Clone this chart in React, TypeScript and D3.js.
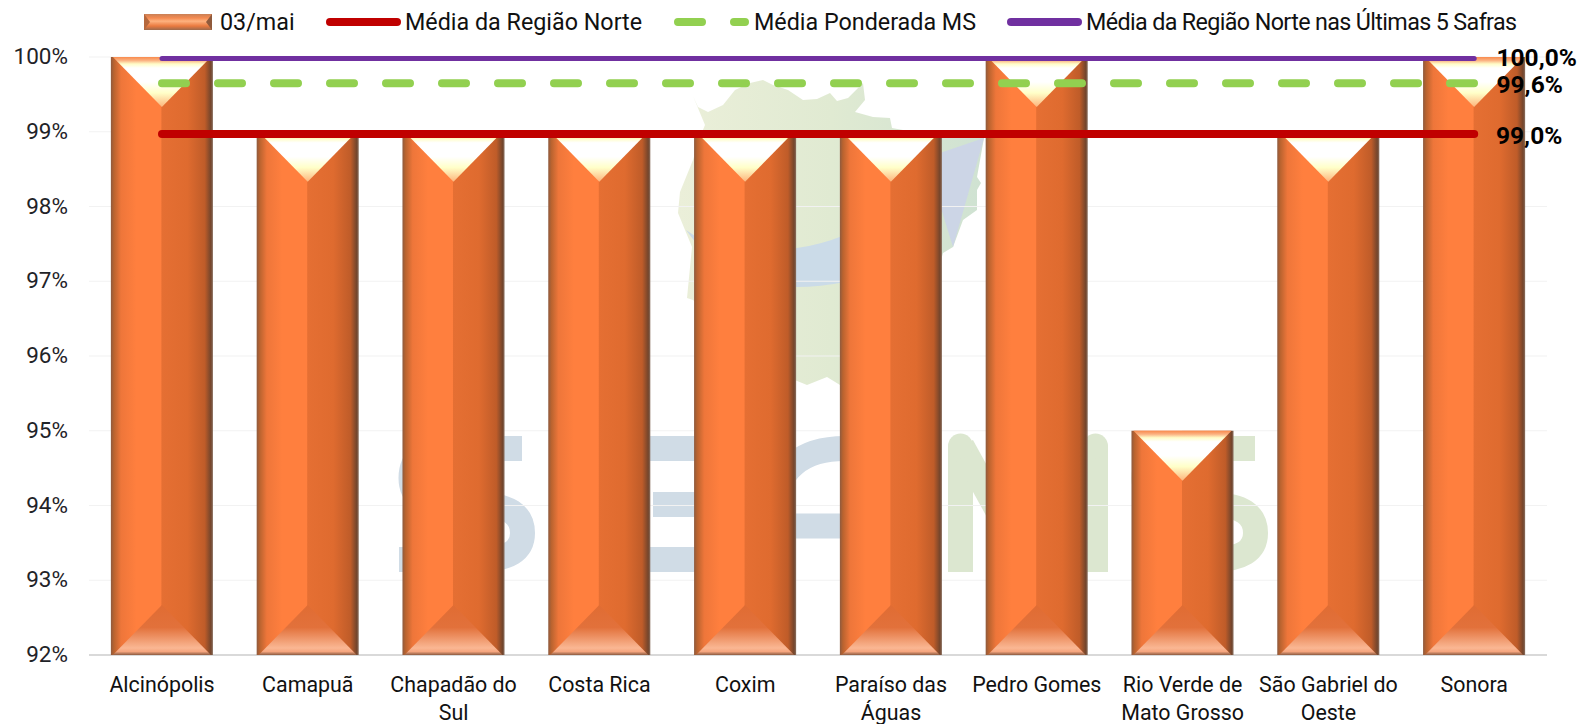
import React from "react";
import { scaleBand, scaleLinear, scalePoint, line } from "d3";

const W = 1580, H = 724;
const categories = ["Alcinópolis", "Camapuã", "Chapadão do Sul", "Costa Rica", "Coxim", "Paraíso das Águas", "Pedro Gomes", "Rio Verde de Mato Grosso", "São Gabriel do Oeste", "Sonora"];
const catLines = [["Alcinópolis"], ["Camapuã"], ["Chapadão do", "Sul"], ["Costa Rica"], ["Coxim"], ["Paraíso das", "Águas"], ["Pedro Gomes"], ["Rio Verde de", "Mato Grosso"], ["São Gabriel do", "Oeste"], ["Sonora"]];
const bars = [100, 99, 99, 99, 99, 99, 100, 95, 99, 100];
const mediaNorte = [98.97, 98.97, 98.97, 98.97, 98.97, 98.97, 98.97, 98.97, 98.97, 98.97];
const mediaMS = [99.65, 99.65, 99.65, 99.65, 99.65, 99.65, 99.65, 99.65, 99.65, 99.65];
const media5 = [99.98, 99.98, 99.98, 99.98, 99.98, 99.98, 99.98, 99.98, 99.98, 99.98];
const yTicks = [92, 93, 94, 95, 96, 97, 98, 99, 100];
const endLabels = ["100,0%", "99,6%", "99,0%"];
const FONT = "Roboto, 'Noto Sans', sans-serif";

const x = scaleBand<string>().domain(categories).range([89, 1547]).paddingInner(0.3).paddingOuter(0.15);
const px = scalePoint<string>().domain(categories).range([162, 1474.2]);
const y = scaleLinear().domain([92, 100]).range([655, 57]);
const path = line<number>().x((_, i) => px(categories[i]) as number).y((d) => y(d));

const Defs = () => (
  <defs>
    <linearGradient id="side" x1="0" x2="1" y1="0" y2="0">
      <stop offset="0" stopColor="#8e5a3e" />
      <stop offset="0.03" stopColor="#b9632f" />
      <stop offset="0.1" stopColor="#ee763a" />
      <stop offset="0.25" stopColor="#ff7f3e" />
      <stop offset="0.49" stopColor="#ff7f3e" />
      <stop offset="0.5" stopColor="#e56f33" />
      <stop offset="0.75" stopColor="#df6b2f" />
      <stop offset="0.92" stopColor="#bf5c29" />
      <stop offset="0.98" stopColor="#73452c" />
      <stop offset="1" stopColor="#8a7060" />
    </linearGradient>
    <linearGradient id="topTri" x1="0" x2="0" y1="0" y2="1">
      <stop offset="0" stopColor="#f98a4c" />
      <stop offset="0.07" stopColor="#fbb383" />
      <stop offset="0.14" stopColor="#fffdc8" />
      <stop offset="0.22" stopColor="#ffffff" />
      <stop offset="0.5" stopColor="#ffffff" />
      <stop offset="0.72" stopColor="#ffffc8" />
      <stop offset="1" stopColor="#fdb47c" />
    </linearGradient>
    <linearGradient id="botTri" x1="0" x2="0" y1="0" y2="1">
      <stop offset="0" stopColor="#e06c33" />
      <stop offset="0.45" stopColor="#e2713b" />
      <stop offset="0.86" stopColor="#fab793" />
      <stop offset="0.93" stopColor="#f6a67f" />
      <stop offset="1" stopColor="#8d5b40" />
    </linearGradient>
    <linearGradient id="legendBar" x1="0" x2="0" y1="0" y2="1">
      <stop offset="0" stopColor="#c98056" />
      <stop offset="0.25" stopColor="#f58a50" />
      <stop offset="0.45" stopColor="#fdb27f" />
      <stop offset="0.75" stopColor="#ea7a3f" />
      <stop offset="1" stopColor="#9c6a4c" />
    </linearGradient>
    <linearGradient id="mapFill" x1="0" x2="1" y1="0" y2="0">
      <stop offset="0" stopColor="#ebefd9" />
      <stop offset="0.5" stopColor="#e0ead2" />
      <stop offset="1" stopColor="#cfe2d2" />
    </linearGradient>
  </defs>
);

// marca d'água ao fundo (imagem no original)
const sLetter = "M522 448.5 H450 Q411 448.5 411 478 Q411 505 450 505 H480 Q522.5 505 522.5 533 Q522.5 559.5 480 559.5 H399";
const Watermark = () => (
  <g>
    <path fill="url(#mapFill)" d="M693 96 L698 107 L708 112 L723 105 L735 90 L750 83 L763 80 L773 85 L788 90 L803 100 L817 99 L830 93 L837 101 L848 98 L863 83 L865 100 L855 112 L873 117 L890 118 L892 128 L903 130 L984 138 L977 177 L981 183 L977 190 L977 210 L963 220 L953 247 L943 253 L930 300 L870 370 L840 385 L827 377 L807 385 L770 370 L693 300 L687 298 L692 247 L685 230 L678 213 L680 192 L693 160 L700 137 L705 125 Z" />
    <path fill="#cbdbe8" d="M686 230 Q730 262 797 248 Q820 245 845 235 V282 Q820 287 797 287 Q745 285 715 268 Z" />
    <path fill="#ccd5e6" d="M940 153 L984 138 L953 247 L940 205 Z" />
    <g fill="none" stroke="#d0dce6" strokeWidth={25}>
      <path d={sLetter} />
      <path d="M640 448.5 H710 M653 504.5 H710 M640 559.5 H710" />
      <path d="M860 448.5 H845 Q780 448.5 772 510" />
      <path d="M790 526 H850" />
    </g>
    <g fill="none" stroke="#dce7d0" strokeWidth={25}>
      <path d={sLetter} transform="translate(733,0)" />
      <path d="M960.5 572 V446" />
      <path d="M1095.5 572 V446" />
      <path d="M962 446 L1000 515" />
    </g>
    <g fill="#dce7d0">
      <circle cx={960.5} cy={446} r={12.5} />
      <circle cx={1095.5} cy={446} r={12.5} />
    </g>
  </g>
);

const Bar = ({ cat, v }: { cat: string; v: number }) => {
  const x0 = x(cat) as number, bw = x.bandwidth(), top = y(v), bot = y(92), d = 50, cx = x0 + bw / 2;
  return (
    <g>
      <rect x={x0} y={top} width={bw} height={bot - top} fill="url(#side)" />
      <polygon points={`${x0 + 2},${top} ${x0 + bw - 2},${top} ${cx},${top + d}`} fill="url(#topTri)" />
      <polygon points={`${x0 + 2},${bot} ${x0 + bw - 2},${bot} ${cx},${bot - d}`} fill="url(#botTri)" />
    </g>
  );
};

export default function App() {
  return (
    <svg width={W} height={H} viewBox={`0 0 ${W} ${H}`} style={{ position: "absolute", left: 0, top: 0, fontFamily: FONT }}>
      <Defs />
      <rect width={W} height={H} fill="#fff" />
      <Watermark />
      {yTicks.map((t) => (
        <line key={t} x1={89} x2={1547} y1={y(t)} y2={y(t)} stroke={t === 92 ? "#d9d9d9" : "#f2f2f2"} strokeWidth={t === 92 ? 2 : 1.2} />
      ))}
      {yTicks.map((t) => (
        <text key={t} x={68} y={y(t) + 7} textAnchor="end" fontSize={22.5} fill="#1f2328">{t}%</text>
      ))}
      {categories.map((c, i) => <Bar key={c} cat={c} v={bars[i]} />)}
      {categories.map((c, i) => (
        <text key={c} textAnchor="middle" fontSize={21.4} fill="#111">
          {catLines[i].map((l, j) => <tspan key={l} x={px(c)} y={692 + j * 27.5}>{l}</tspan>)}
        </text>
      ))}
      <path d={path(mediaNorte) as string} fill="none" stroke="#c00000" strokeWidth={8} strokeLinecap="round" />
      <path d={path(mediaMS) as string} fill="none" stroke="#92d050" strokeWidth={8} strokeLinecap="round" strokeDasharray="24 32" />
      <path d={path(media5) as string} fill="none" stroke="#7030a0" strokeWidth={5} strokeLinecap="round" />
      <g fontSize={24.5} fontWeight={700} fill="#000">
        <text x={1496.5} y={66}>{endLabels[0]}</text>
        <text x={1496.5} y={93}>{endLabels[1]}</text>
        <text x={1496} y={144}>{endLabels[2]}</text>
      </g>
      {/* legenda */}
      <g fontSize={23.3} fill="#111">
        <rect x={144} y={14} width={68} height={16} fill="url(#legendBar)" />
        <polygon points="144,14 150,22 144,30" fill="#b5683d" />
        <polygon points="212,14 206,22 212,30" fill="#8f5a3c" />
        <text x={220} y={30}>03/mai</text>
        <line x1={330} x2={397} y1={22} y2={22} stroke="#c00000" strokeWidth={8} strokeLinecap="round" />
        <text x={405} y={30}>Média da Região Norte</text>
        <line x1={678} x2={745} y1={22} y2={22} stroke="#92d050" strokeWidth={8} strokeLinecap="round" strokeDasharray="24 32" />
        <text x={754} y={30}>Média Ponderada MS</text>
        <line x1={1011} x2={1078} y1={22} y2={22} stroke="#7030a0" strokeWidth={8} strokeLinecap="round" />
        <text x={1086} y={30} textLength={431} lengthAdjust="spacing">Média da Região Norte nas Últimas 5 Safras</text>
      </g>
    </svg>
  );
}
